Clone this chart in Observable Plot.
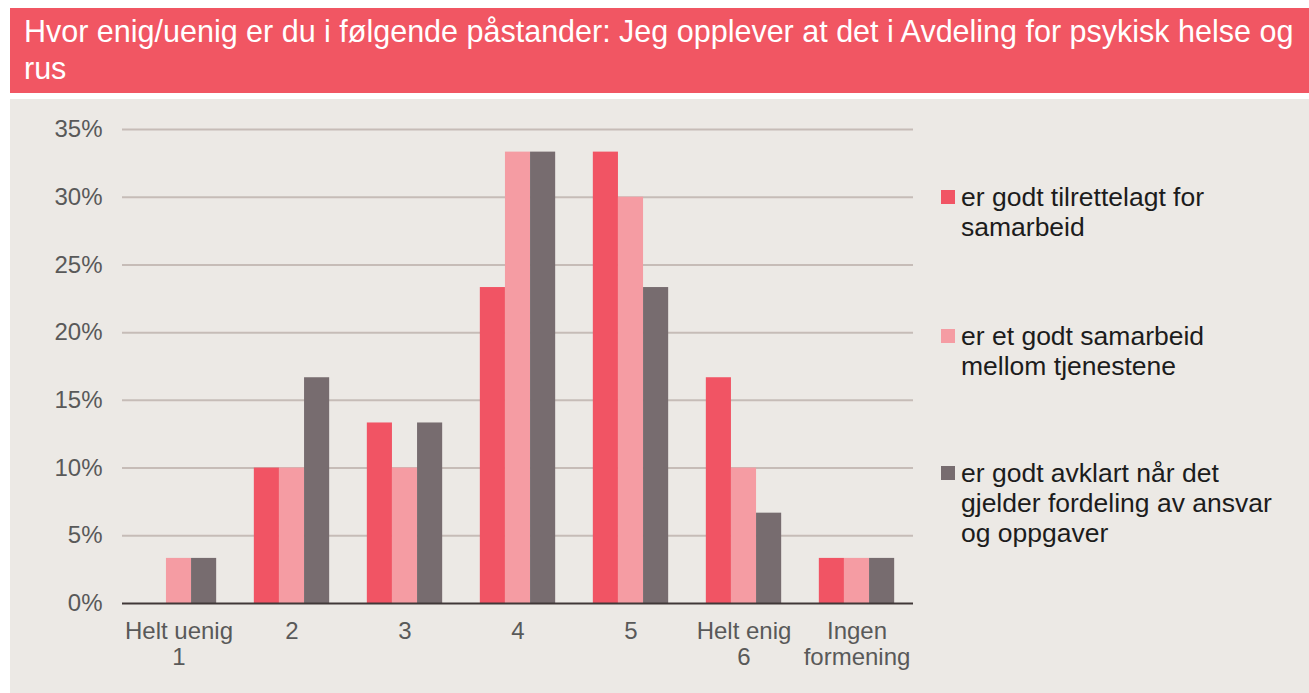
<!DOCTYPE html>
<html>
<head>
<meta charset="utf-8">
<script src="https://cdn.jsdelivr.net/npm/d3@7"></script>
<script src="https://cdn.jsdelivr.net/npm/@observablehq/plot@0.6"></script>
<style>
  html, body { margin: 0; padding: 0; background: #ffffff; }
  body { width: 1309px; height: 693px; position: relative; overflow: hidden; font-family: "Liberation Sans", Arial, sans-serif; }
  #banner { position: absolute; left: 10px; top: 8px; width: 1299px; height: 85px; background: #f15663; color: #ffffff;
            font-size: 30.5px; line-height: 37px; box-sizing: border-box; padding: 5px 0 0 14px; white-space: nowrap; }
  #panel { position: absolute; left: 10px; top: 99px; width: 1299px; height: 594px; background: #ece9e5; }
  #chart { position: absolute; left: 0; top: 0; }
  .leg { position: absolute; left: 951px; font-size: 26.5px; line-height: 30px; color: #1c1c1c; white-space: nowrap; }
  .sw { position: absolute; left: -20px; top: 8px; width: 14px; height: 14px; }
</style>
</head>
<body>
<div id="banner"></div>
<div id="panel"><div id="chart"></div></div>
<script>
const titleLines = ["Hvor enig/uenig er du i følgende påstander: Jeg opplever at det i Avdeling for psykisk helse og", "rus"];
const categories = ["Helt uenig\n1", "2", "3", "4", "5", "Helt enig\n6", "Ingen\nformening"];
const seriesNames = [
  "er godt tilrettelagt for samarbeid",
  "er et godt samarbeid mellom tjenestene",
  "er godt avklart når det gjelder fordeling av ansvar og oppgaver"
];
const legendLines = [
  ["er godt tilrettelagt for", "samarbeid"],
  ["er et godt samarbeid", "mellom tjenestene"],
  ["er godt avklart når det", "gjelder fordeling av ansvar", "og oppgaver"]
];
const tilrettelagt = [0, 10, 13.33, 23.33, 33.33, 16.67, 3.33];
const samarbeid = [3.33, 10, 10, 33.33, 30, 10, 3.33];
const avklart = [3.33, 16.67, 13.33, 33.33, 23.33, 6.67, 3.33];
const seriesColors = ["#f15464", "#f59ca3", "#776c6f"];
const yTicks = [0, 5, 10, 15, 20, 25, 30, 35];

const seriesValues = [tilrettelagt, samarbeid, avklart];
const data = [];
categories.forEach((c, i) => {
  seriesNames.forEach((s, j) => data.push({cat: c, series: s, value: seriesValues[j][i]}));
});

document.getElementById("banner").innerHTML = titleLines.join("<br>");

const chart = Plot.plot({
  width: 910,
  height: 594,
  marginLeft: 112,
  marginRight: 7,
  marginTop: 30,
  marginBottom: 90,
  style: {background: "transparent", fontFamily: "'Liberation Sans', Arial, sans-serif", fontSize: "24px", color: "#595959", overflow: "visible"},
  fx: {domain: categories, padding: 0, round: false, axis: null, label: null},
  x: {domain: seriesNames, axis: null, paddingInner: 0, paddingOuter: 0.75, round: false},
  y: {domain: [0, 35], ticks: yTicks, tickFormat: d => d + "%", tickSize: 0, tickPadding: 20, label: null},
  color: {domain: seriesNames, range: seriesColors},
  marks: [
    Plot.ruleY(yTicks.slice(1), {stroke: "#c6bcb7", strokeWidth: 2}),
    Plot.barY(data, {fx: "cat", x: "series", y: "value", fill: "series", inset: 0}),
    Plot.ruleY([0], {stroke: "#403838", strokeWidth: 2}),
    Plot.text(categories, {fx: d => d, text: d => d, frameAnchor: "bottom", lineAnchor: "top", dy: 17,
      fontSize: 24, fill: "#595959", lineHeight: 1.09})
  ]
});
document.getElementById("chart").appendChild(chart);

const legTops = [83, 222, 359];
const panel = document.getElementById("panel");
legendLines.forEach((lines, i) => {
  const d = document.createElement("div");
  d.className = "leg";
  d.style.top = legTops[i] + "px";
  d.innerHTML = '<span class="sw" style="background:' + seriesColors[i] + '"></span>' + lines.join("<br>");
  panel.appendChild(d);
});
</script>
</body>
</html>
